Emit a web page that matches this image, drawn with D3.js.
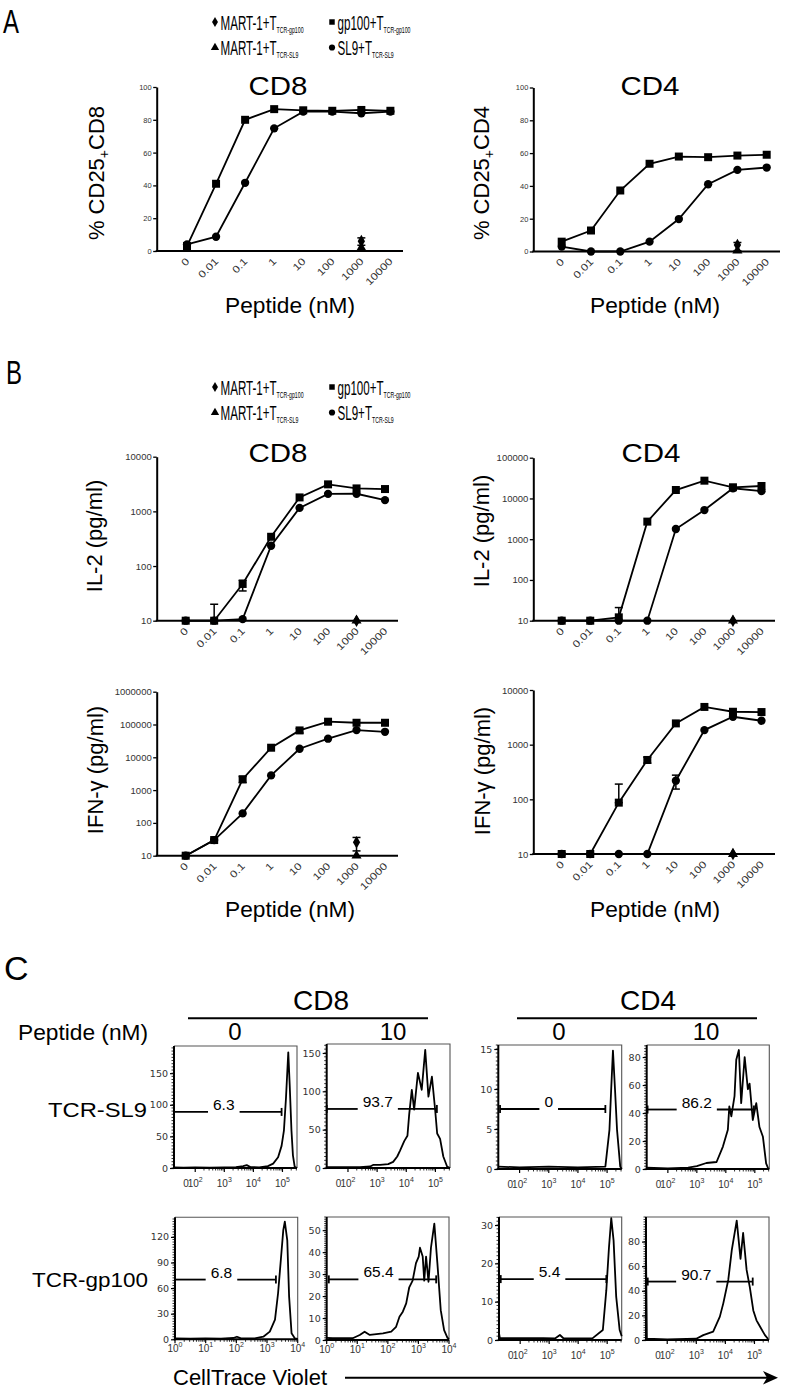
<!DOCTYPE html>
<html><head><meta charset="utf-8">
<script src="https://cdnjs.cloudflare.com/ajax/libs/d3/7.8.5/d3.min.js"></script>
<style>
html,body{margin:0;padding:0;background:#fff}
svg{display:block}
text{font-family:"Liberation Sans",Arial,Helvetica,sans-serif}
</style></head><body>
<svg id="fig" width="792" height="1393" viewBox="0 0 792 1393"></svg>
<script>
// ================= DATA =================
const doses = ["0","0.01","0.1","1","10","100","1000","10000"];
const legendMain = ["MART-1+T","gp100+T","MART-1+T","SL9+T"];
const legendSub  = ["TCR-gp100","TCR-gp100","TCR-SL9","TCR-SL9"];
const legendSym  = ["diamond","square","triangle","circle"];

// Panel A: % CD25+
const cd25CD8_gp100 = [3, 41, 80, 86.5, 85.8, 85.5, 86, 85.5];
const cd25CD8_SL9   = [4, 8.7, 41.6, 74.8, 85, 85, 84, 85];
const cd25CD8_MARTgp100 = [null,null,null,null,null,null,6,null];
const cd25CD8_MARTgp100Err = [null,null,null,null,null,null,[3.5,8],null];
const cd25CD8_MARTSL9   = [null,null,null,null,null,null,2,null];

const cd25CD4_gp100 = [6, 12.8, 37.2, 53.5, 57.9, 57.5, 58.5, 59];
const cd25CD4_SL9   = [3, 0, 0, 6, 19.8, 41, 49.8, 51.2];
const cd25CD4_MARTgp100 = [null,null,null,null,null,null,4,null];
const cd25CD4_MARTgp100Err = [null,null,null,null,null,null,[0.5,5.5],null];
const cd25CD4_MARTSL9   = [null,null,null,null,null,null,0.5,null];

// Panel B: IL-2 (pg/ml)
const il2CD8_gp100 = [10, 10, 47, 343, 1800, 3120, 2630, 2560];
const il2CD8_gp100Err = [null,[10,20],[35,55],null,null,null,null,null];
const il2CD8_SL9   = [10, 10, 10.7, 235, 1160, 2090, 2100, 1610];
const il2CD8_MARTgp100 = [null,null,null,null,null,null,10,null];
const il2CD8_MARTSL9   = [null,null,null,null,null,null,10,null];

const il2CD4_gp100 = [10, 10, 12.1, 2700, 16100, 27300, 18800, 20200];
const il2CD4_gp100Err = [null,null,[10,21],null,null,null,null,null];
const il2CD4_SL9   = [10, 10, 10, 10, 1780, 5200, 17800, 15100];
const il2CD4_MARTgp100 = [null,null,null,null,null,null,10,null];
const il2CD4_MARTSL9   = [null,null,null,null,null,null,10,null];

// Panel B: IFN-gamma (pg/ml)
const ifnCD8_gp100 = [10, 30, 2140, 19600, 66000, 121600, 113000, 113000];
const ifnCD8_gp100Err = [null,null,[1700,2600],null,[55000,75000],null,null,null];
const ifnCD8_SL9   = [10, 30, 195, 2800, 18200, 36900, 67600, 60000];
const ifnCD8_MARTgp100 = [null,null,null,null,null,null,25.7,null];
const ifnCD8_MARTgp100Err = [null,null,null,null,null,null,[14,36],null];
const ifnCD8_MARTSL9   = [null,null,null,null,null,null,10,null];

const ifnCD4_gp100 = [10, 10, 87, 525, 2450, 4900, 4000, 3950];
const ifnCD4_gp100Err = [null,null,[87,190],[460,590],null,null,null,null];
const ifnCD4_SL9   = [10, 10, 10, 10, 219, 1850, 3240, 2740];
const ifnCD4_SL9Err = [null,null,null,null,[154,277],null,null,null];
const ifnCD4_MARTgp100 = [null,null,null,null,null,null,10,null];
const ifnCD4_MARTSL9   = [null,null,null,null,null,null,10,null];

// Panel C: CellTrace Violet histograms [log10 intensity, count]
const hCD8_SL9_0 = [[1.27,1],[1.6,0.5],[2,1],[2.5,0.5],[3,1],[3.4,1.5],[3.65,3],[3.77,4.5],[3.9,1.5],[4.2,1],[4.5,3],[4.68,7],[4.85,17],[4.97,35],[5.05,59],[5.12,110],[5.2,183],[5.25,130],[5.31,59],[5.36,20],[5.42,2],[5.5,0]];
const hCD8_SL9_10 = [[1.27,1],[1.38,1],[1.9,1],[2.41,1],[2.76,2],[2.86,4],[3.1,4],[3.38,5],[3.55,8],[3.69,15],[3.79,23],[3.93,35],[4.04,42],[4.1,70],[4.19,102],[4.27,76],[4.4,124],[4.53,102],[4.65,154],[4.76,93],[4.88,119],[4.99,76],[5.06,45],[5.16,38],[5.27,15],[5.4,2],[5.5,0]];
const hCD4_SL9_0 = [[1.27,0.3],[2,0.2],[3,0.3],[4,0.2],[4.94,0.3],[5.08,4.9],[5.14,10],[5.2,14.8],[5.27,10],[5.34,4.9],[5.45,0.3],[5.5,0]];
const hCD4_SL9_10 = [[1.27,1],[2,0.5],[2.7,1],[3.0,2],[3.33,4.3],[3.68,5],[3.9,16],[4.07,28],[4.12,44.7],[4.19,37.6],[4.3,52],[4.36,78],[4.45,85],[4.53,47],[4.65,80],[4.76,57],[4.82,61],[4.93,35],[5.05,47],[5.16,30],[5.28,23],[5.39,4],[5.47,0]];
const hCD8_gp100_0 = [[0,1],[0.5,0.8],[1,1],[1.5,0.8],[1.9,1.5],[2.02,3],[2.15,1],[2.6,1],[2.88,3],[3.09,9],[3.26,23],[3.36,54],[3.45,93],[3.53,128],[3.58,138],[3.66,116],[3.72,50],[3.8,7],[3.91,1],[4,0.5]];
const hCD8_gp100_10 = [[0,1],[0.2,0.8],[0.85,0.8],[1.08,2.3],[1.24,3.8],[1.41,2.3],[1.84,3],[2.11,3.8],[2.27,6],[2.38,10.6],[2.49,12.9],[2.6,16.7],[2.7,24],[2.81,27],[2.92,35],[3.01,38],[3.05,42],[3.14,38],[3.19,27],[3.25,38],[3.33,26.5],[3.41,42],[3.52,53],[3.62,35],[3.73,13.6],[3.84,4.5],[3.95,1],[4,0.5]];
const hCD4_gp100_0 = [[1.27,1.8],[1.3,0.5],[2,0.5],[2.8,0.5],[3.2,0.4],[3.37,1.3],[3.5,0.4],[4.5,0.5],[4.85,2.6],[4.97,13],[5.06,24],[5.14,31.8],[5.22,26],[5.31,11.3],[5.43,2.6],[5.5,1]];
const hCD4_gp100_10 = [[1.27,72],[1.3,1],[2,0.5],[3,1],[3.24,4],[3.58,6.8],[3.81,19],[3.93,30],[4.1,49],[4.22,73],[4.39,97],[4.52,66],[4.61,87],[4.73,57],[4.84,43],[4.96,24],[5.07,16],[5.19,11],[5.36,4],[5.47,0.8]];

const histGateLabels = ["6.3","93.7","0","86.2","6.8","65.4","5.4","90.7"];
const histGates = [[1.27,4.97,88.7],[1.27,5.05,77],[1.33,4.94,7.5],[1.3,4.97,42.5],[0.0,3.29,70],[0.07,3.58,27.6],[1.33,4.97,15.9],[1.33,4.94,47.5]];
const histYTicks = [[0,50,100,150],[0,50,100,150],[0,5,10,15],[0,20,40,60,80],[0,30,60,90,120],[0,10,20,30,40,50],[0,10,20,30],[0,20,40,60,80]];
const histYMax = [193,161.7,15.5,88.6,143,56,32.1,100];
const biexTickPos = [1.68,2,3,4,5];
const biexTickExp = [null,"2","3","4","5"];
const logTickPos = [0,1,2,3,4];
const logTickExp = ["0","1","2","3","4"];
const rowLabels = ["TCR-SL9","TCR-gp100"];
const peptideCols = ["0","10","0","10"];

// ================= DRAWING =================
const svg = d3.select("#fig");
const symMap = {diamond:d3.symbolDiamond, square:d3.symbolSquare, triangle:d3.symbolTriangle, circle:d3.symbolCircle};
const symSize = {diamond:46, square:64, triangle:44, circle:54};

function txt(g, x, y, s, size, anchor, extra) {
  const t = g.append("text").attr("x",x).attr("y",y).attr("font-size",size)
    .attr("text-anchor",anchor||"start").attr("fill","#000").text(s);
  if (extra) extra(t);
  return t;
}

// panel letters
txt(svg, 3, 33, "A", 34, "start", t=>t.attr("textLength",16).attr("lengthAdjust","spacingAndGlyphs"));
txt(svg, 6, 384, "B", 34, "start", t=>t.attr("textLength",16).attr("lengthAdjust","spacingAndGlyphs"));
txt(svg, 4, 980, "C", 34, "start");

function drawLegend(yOff) {
  const g = svg.append("g");
  const px = [215, 332, 215, 332], py = [22, 22, 47.5, 47.5];
  legendMain.forEach((m,i)=>{
    g.append("path").attr("transform",`translate(${px[i]},${py[i]+yOff})`)
      .attr("d", d3.symbol().type(symMap[legendSym[i]]).size(30)()).attr("fill","#000");
    const t = g.append("text").attr("transform",`translate(${px[i]+5.5},${py[i]+yOff+7.5}) scale(0.58,1)`)
      .attr("font-size",20).attr("fill","#000");
    t.append("tspan").text(m);
    t.append("tspan").attr("font-size",9).attr("dy",3).text(legendSub[i]);
  });
}
drawLegend(0);
drawLegend(365);

function drawDose(c) {
  const g = svg.append("g");
  const x = d3.scalePoint().domain(doses).range([c.xFirst, c.xLast]);
  const y = (c.log ? d3.scaleLog() : d3.scaleLinear()).domain(c.domain).range([c.yBottom, c.yTop]);
  const ax = g.append("g").attr("transform",`translate(${c.axisX},0)`)
    .call(d3.axisLeft(y).tickValues(c.ticks).tickSize(3.5).tickSizeOuter(0).tickPadding(1.5).tickFormat(d3.format("d")));
  ax.select(".domain").attr("stroke","#000").attr("stroke-width",2);
  ax.selectAll(".tick line").attr("stroke","#000").attr("stroke-width",1.3);
  ax.selectAll(".tick text").attr("font-size",c.tickFont).attr("fill","#333");
  // x axis
  g.append("line").attr("x1",c.axisX-1).attr("x2",c.xEnd).attr("y1",c.yBottom).attr("y2",c.yBottom)
    .attr("stroke","#000").attr("stroke-width",2);
  g.selectAll("text.xl").data(doses).join("text").attr("class","xl")
    .attr("transform", d=>`translate(${x(d)+3},${c.yBottom+11}) rotate(-45) scale(1.22,1)`)
    .attr("text-anchor","end").attr("font-size",10).attr("fill","#333").text(d=>d);
  // lines
  const line = d3.line().defined(d=>d.v!=null).x(d=>x(d.k)).y(d=>y(d.v));
  c.series.forEach(s=>{
    const pts = doses.map((k,i)=>({k, v:s.vals[i]}));
    g.append("path").attr("d", line(pts)).attr("fill","none").attr("stroke","#000").attr("stroke-width",1.8);
  });
  // error bars
  c.series.forEach(s=>{
    if (!s.err) return;
    s.err.forEach((e,i)=>{
      if (!e) return;
      const xx = x(doses[i]);
      g.append("line").attr("x1",xx).attr("x2",xx).attr("y1",y(e[0])).attr("y2",y(e[1])).attr("stroke","#000").attr("stroke-width",1.5);
      [e[0],e[1]].forEach(v=>{
        if (c.log && v<=c.domain[0]) return;
        g.append("line").attr("x1",xx-4).attr("x2",xx+4).attr("y1",y(v)).attr("y2",y(v)).attr("stroke","#000").attr("stroke-width",1.5);
      });
    });
  });
  // markers
  c.series.forEach(s=>{
    const pts = doses.map((k,i)=>({k, v:s.vals[i]})).filter(d=>d.v!=null);
    g.selectAll(null).data(pts).join("path")
      .attr("transform", d=>`translate(${x(d.k)},${y(d.v)})`)
      .attr("d", d3.symbol().type(symMap[s.sym]).size(symSize[s.sym])()).attr("fill","#000");
  });
  // title
  if (c.title) txt(g, c.titleX, c.titleY, c.title, 25, "middle", t=>t.attr("textLength",59).attr("lengthAdjust","spacingAndGlyphs"));
  // y label
  const yl = g.append("text").attr("transform",`translate(${c.ylX},${c.ylY}) rotate(-90)`)
    .attr("text-anchor","middle").attr("font-size",22).attr("fill","#000");
  c.ylabel.forEach(p=>{
    const ts = yl.append("tspan").text(p.t);
    if (p.sub) ts.attr("font-size",14).attr("dy",5);
    if (p.after) ts.attr("dy",-5);
  });
  if (c.xlabel) txt(g, c.xlX, c.xlY, "Peptide (nM)", 21.5, "middle", t=>t.attr("textLength",130).attr("lengthAdjust","spacingAndGlyphs"));
}

const cd25Label = cell => [{t:"% CD25"},{t:"+",sub:true},{t:cell,after:true}];

drawDose({axisX:156.7, xFirst:187, xLast:390.4, xEnd:403, yBottom:251, yTop:87, log:false, domain:[0,100],
  ticks:[0,20,40,60,80,100], tickFont:7.5, title:"CD8", titleX:278, titleY:95,
  ylabel:cd25Label("CD8"), ylX:103.5, ylY:173, xlabel:true, xlX:290, xlY:312.7,
  series:[{vals:cd25CD8_SL9,sym:"circle"},{vals:cd25CD8_gp100,sym:"square"},
          {vals:cd25CD8_MARTSL9,sym:"triangle"},{vals:cd25CD8_MARTgp100,sym:"diamond",err:cd25CD8_MARTgp100Err}]});
drawDose({axisX:533.3, xFirst:561.7, xLast:766.7, xEnd:780, yBottom:251.5, yTop:87.5, log:false, domain:[0,100],
  ticks:[0,20,40,60,80,100], tickFont:7.5, title:"CD4", titleX:650, titleY:95,
  ylabel:cd25Label("CD4"), ylX:488.5, ylY:173, xlabel:true, xlX:655, xlY:312.7,
  series:[{vals:cd25CD4_SL9,sym:"circle"},{vals:cd25CD4_gp100,sym:"square"},
          {vals:cd25CD4_MARTSL9,sym:"triangle"},{vals:cd25CD4_MARTgp100,sym:"diamond",err:cd25CD4_MARTgp100Err}]});
drawDose({axisX:156.7, xFirst:185.7, xLast:385, xEnd:398, yBottom:620.7, yTop:456.7, log:true, domain:[10,10000],
  ticks:[10,100,1000,10000], tickFont:9.5, title:"CD8", titleX:278, titleY:461.7,
  ylabel:[{t:"IL-2 (pg/ml)"}], ylX:102, ylY:536, xlabel:false,
  series:[{vals:il2CD8_SL9,sym:"circle"},{vals:il2CD8_gp100,sym:"square",err:il2CD8_gp100Err},
          {vals:il2CD8_MARTgp100,sym:"diamond"},{vals:il2CD8_MARTSL9,sym:"triangle"}]});
drawDose({axisX:533.3, xFirst:561.7, xLast:761.5, xEnd:775, yBottom:620.7, yTop:457.7, log:true, domain:[10,100000],
  ticks:[10,100,1000,10000,100000], tickFont:9.5, title:"CD4", titleX:651, titleY:461.7,
  ylabel:[{t:"IL-2 (pg/ml)"}], ylX:489, ylY:531, xlabel:false,
  series:[{vals:il2CD4_SL9,sym:"circle"},{vals:il2CD4_gp100,sym:"square",err:il2CD4_gp100Err},
          {vals:il2CD4_MARTgp100,sym:"diamond"},{vals:il2CD4_MARTSL9,sym:"triangle"}]});
drawDose({axisX:156.7, xFirst:185.7, xLast:385, xEnd:398, yBottom:855.7, yTop:691.7, log:true, domain:[10,1000000],
  ticks:[10,100,1000,10000,100000,1000000], tickFont:9.5, title:"", titleX:0, titleY:0,
  ylabel:[{t:"IFN-γ (pg/ml)"}], ylX:103, ylY:770, xlabel:true, xlX:290, xlY:917.4,
  series:[{vals:ifnCD8_SL9,sym:"circle"},{vals:ifnCD8_gp100,sym:"square",err:ifnCD8_gp100Err},
          {vals:ifnCD8_MARTSL9,sym:"triangle"},{vals:ifnCD8_MARTgp100,sym:"diamond",err:ifnCD8_MARTgp100Err}]});
drawDose({axisX:533.3, xFirst:561.7, xLast:761.5, xEnd:775, yBottom:854, yTop:690, log:true, domain:[10,10000],
  ticks:[10,100,1000,10000], tickFont:9.5, title:"", titleX:0, titleY:0,
  ylabel:[{t:"IFN-γ (pg/ml)"}], ylX:490, ylY:771, xlabel:true, xlX:655, xlY:917.4,
  series:[{vals:ifnCD4_SL9,sym:"circle",err:ifnCD4_SL9Err},{vals:ifnCD4_gp100,sym:"square",err:ifnCD4_gp100Err},
          {vals:ifnCD4_MARTgp100,sym:"diamond"},{vals:ifnCD4_MARTSL9,sym:"triangle"}]});

// ----- Panel C headers -----
const hg = svg.append("g");
txt(hg, 321, 1010, "CD8", 28, "middle");
txt(hg, 648, 1010, "CD4", 28, "middle");
hg.append("line").attr("x1",188).attr("x2",428).attr("y1",1018.3).attr("y2",1018.3).attr("stroke","#000").attr("stroke-width",2);
hg.append("line").attr("x1",517).attr("x2",757).attr("y1",1018.3).attr("y2",1018.3).attr("stroke","#000").attr("stroke-width",2);
txt(hg, 18, 1040, "Peptide (nM)", 22, "start", t=>t.attr("textLength",130).attr("lengthAdjust","spacingAndGlyphs"));
[235, 393, 559, 706].forEach((cx,i)=>txt(hg, cx, 1040, peptideCols[i], 24, "middle"));
txt(hg, 147, 1117, rowLabels[0], 21, "end", t=>t.attr("textLength",99).attr("lengthAdjust","spacingAndGlyphs"));
txt(hg, 148, 1287, rowLabels[1], 21, "end", t=>t.attr("textLength",116).attr("lengthAdjust","spacingAndGlyphs"));
txt(hg, 173, 1385, "CellTrace Violet", 22, "start");
hg.append("line").attr("x1",345).attr("x2",768).attr("y1",1377.7).attr("y2",1377.7).attr("stroke","#000").attr("stroke-width",2);
hg.append("path").attr("d","M778,1377.7 L763,1371 L767,1377.7 L763,1384.4 Z").attr("fill","#000");

function drawHist(c) {
  const g = svg.append("g");
  const x = d3.scaleLinear().domain(c.xDomain).range([c.left, c.left+c.w]);
  const y = d3.scaleLinear().domain([0, c.yMax]).range([c.top+c.h, c.top]);
  // frame (top & right)
  g.append("path").attr("d",`M${c.left},${c.top}H${c.left+c.w}V${c.top+c.h}`)
    .attr("fill","none").attr("stroke","#555").attr("stroke-width",1.1);
  // y minor ticks
  const step = c.yTicks[1]-c.yTicks[0];
  const minors = d3.range(0, Math.floor(c.yMax/(step/10))+1).map(i=>i*step/10);
  g.selectAll(null).data(minors).join("line")
    .attr("x1",c.left-2.5).attr("x2",c.left).attr("y1",d=>y(d)).attr("y2",d=>y(d))
    .attr("stroke","#000").attr("stroke-width",0.8);
  const ay = g.append("g").attr("transform",`translate(${c.left},0)`)
    .call(d3.axisLeft(y).tickValues(c.yTicks).tickSize(4).tickSizeOuter(0).tickPadding(2));
  ay.select(".domain").remove();
  ay.selectAll(".tick line").attr("stroke","#000").attr("stroke-width",1.2);
  ay.selectAll(".tick text").attr("font-size",9.5).attr("fill","#333").style("font-family","'DejaVu Sans',sans-serif");
  g.append("line").attr("x1",c.left).attr("x2",c.left).attr("y1",c.top).attr("y2",c.top+c.h+1)
    .attr("stroke","#000").attr("stroke-width",2);
  // x axis
  g.append("line").attr("x1",c.left-1).attr("x2",c.left+c.w).attr("y1",c.top+c.h).attr("y2",c.top+c.h)
    .attr("stroke","#000").attr("stroke-width",2);
  const xMinor = [];
  for (let n = (c.biex?2:0); n < 6; n++) for (let k=2;k<10;k++){ const v=n+Math.log10(k); if(v>=c.xDomain[0] && v<=c.xDomain[1]) xMinor.push(v); }
  g.selectAll(null).data(xMinor).join("line")
    .attr("x1",d=>x(d)).attr("x2",d=>x(d)).attr("y1",c.top+c.h).attr("y2",c.top+c.h+2.5)
    .attr("stroke","#000").attr("stroke-width",0.8);
  const tPos = c.biex ? biexTickPos : logTickPos, tExp = c.biex ? biexTickExp : logTickExp;
  g.selectAll(null).data(tPos.filter(v=>Number.isInteger(v))).join("line")
    .attr("x1",d=>x(d)).attr("x2",d=>x(d)).attr("y1",c.top+c.h).attr("y2",c.top+c.h+4)
    .attr("stroke","#000").attr("stroke-width",1.2);
  tPos.forEach((v,i)=>{
    const t = g.append("text").attr("x",x(v)).attr("y",c.top+c.h+(c.biex?19:13))
      .attr("text-anchor","middle").attr("font-size",10).attr("fill","#333");
    if (tExp[i]==null) t.text("0");
    else { t.append("tspan").text("10"); t.append("tspan").attr("dy",-5).attr("font-size",7).text(tExp[i]); }
  });
  // curve
  g.append("path").datum(c.data)
    .attr("d", d3.line().x(d=>x(d[0])).y(d=>y(d[1])))
    .attr("fill","none").attr("stroke","#000").attr("stroke-width",1.8).attr("stroke-linejoin","round");
  // gate
  const gy = y(c.gate[2]), gx0 = x(c.gate[0]), gx1 = x(c.gate[1]);
  const cx = (gx0+gx1)/2 - 4;
  const lab = g.append("text").attr("x",cx).attr("y",gy-2).attr("text-anchor","middle")
    .attr("font-size",15.5).attr("fill","#000").text(c.label);
  const tw = lab.node().getComputedTextLength();
  const L = (a,b,cc,d)=>g.append("line").attr("x1",a).attr("x2",b).attr("y1",cc).attr("y2",d)
    .attr("stroke","#000").attr("stroke-width",1.8);
  L(gx0, cx-tw/2-5, gy, gy);
  L(cx+tw/2+5, gx1, gy, gy);
  L(gx0, gx0, gy-4, gy+4);
  L(gx1, gx1, gy-4, gy+4);
}

const histData = [hCD8_SL9_0, hCD8_SL9_10, hCD4_SL9_0, hCD4_SL9_10, hCD8_gp100_0, hCD8_gp100_10, hCD4_gp100_0, hCD4_gp100_10];
const boxes = [
  {left:174,   top:1046,   w:123,   h:122,  biex:true},
  {left:326.7, top:1044,   w:123.3, h:124,  biex:true},
  {left:498.3, top:1045,   w:123.4, h:124,  biex:true},
  {left:646.7, top:1045,   w:122.6, h:124,  biex:true},
  {left:175,   top:1217.3, w:122.7, h:122,  biex:false},
  {left:326.7, top:1217,   w:122.3, h:123,  biex:false},
  {left:499,   top:1217,   w:122.7, h:123,  biex:true},
  {left:646,   top:1217,   w:123,   h:123,  biex:true}
];
boxes.forEach((b,i)=>drawHist(Object.assign({}, b, {
  xDomain: b.biex ? [1.27,5.5] : [0,4],
  yMax: histYMax[i], yTicks: histYTicks[i], data: histData[i],
  gate: histGates[i], label: histGateLabels[i]
})));
</script></body></html>
